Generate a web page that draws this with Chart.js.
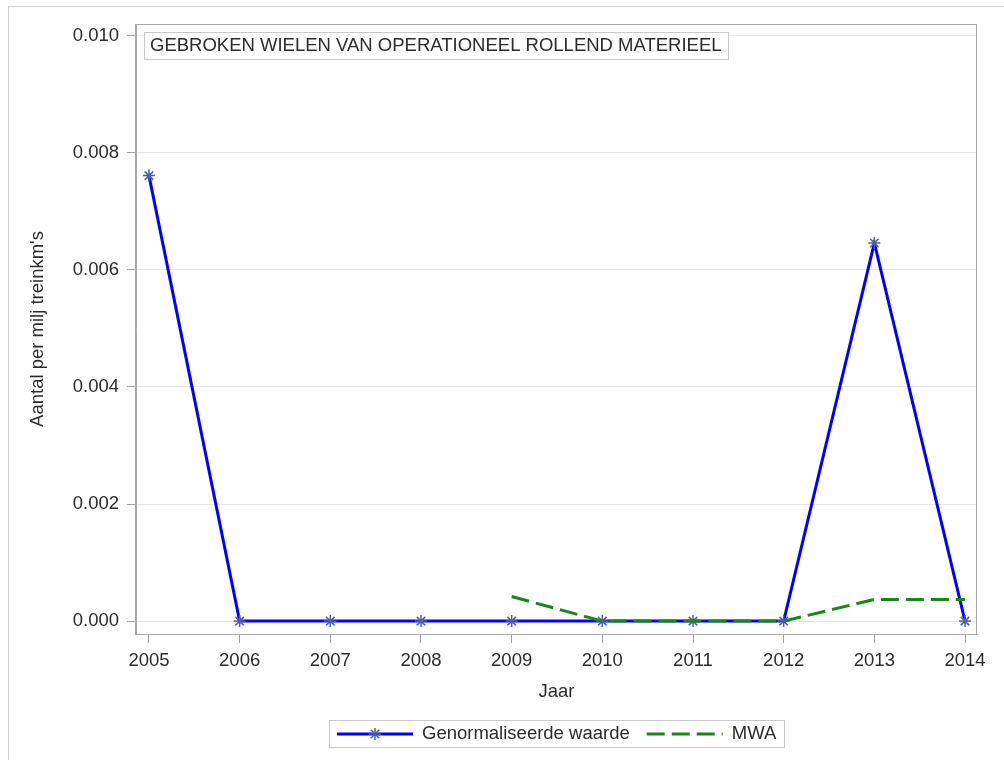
<!DOCTYPE html>
<html>
<head>
<meta charset="utf-8">
<script src="https://cdn.jsdelivr.net/npm/chart.js@4/dist/chart.umd.min.js"></script>
<style>
  html, body { margin: 0; padding: 0; background: #fff; }
  canvas { display: block; }
</style>
</head>
<body>
<canvas id="myChart" width="1004" height="760"></canvas>
<script>
const years = [2005, 2006, 2007, 2008, 2009, 2010, 2011, 2012, 2013, 2014];
const normValues = [0.00761, 0, 0, 0, 0, 0, 0, 0, 0.00646, 0];
const mwaValues = [null, null, null, null, 0.00042, 0, 0, 0, 0.00037, 0.00037];
const yTicks = [0, 0.002, 0.004, 0.006, 0.008, 0.010];
const chartTitle = 'GEBROKEN WIELEN VAN OPERATIONEEL ROLLEND MATERIEEL';

const FAMILY = '"Liberation Sans", Arial, sans-serif';
const SIZE = 18.5;
const FONT = SIZE + 'px ' + FAMILY;
const TEXT = '#2b2b2b';

function points(vals) {
    let out = [];
    for (let i = 0; i < years.length; i++) {
        if (vals[i] !== null) out.push({ x: years[i], y: vals[i] });
    }
    return out;
}

// title box, plot frame, outer border and legend
const frame = {
    id: 'frame',
    beforeDatasetsDraw(chart) {
        const { ctx, chartArea: a } = chart;
        ctx.save();
        ctx.font = FONT;
        const w = Math.round(ctx.measureText(chartTitle).width) + 12;
        ctx.fillStyle = '#fff';
        ctx.fillRect(a.left + 8, a.top + 8, w, 27);
        ctx.strokeStyle = '#c8c8c8';
        ctx.lineWidth = 1;
        ctx.strokeRect(a.left + 8.5, a.top + 8.5, w, 27);
        ctx.fillStyle = TEXT;
        ctx.textBaseline = 'middle';
        ctx.fillText(chartTitle, a.left + 14, a.top + 22);
        ctx.restore();
    },
    afterDraw(chart) {
        const { ctx, chartArea: a } = chart;
        ctx.save();
        ctx.lineWidth = 1;
        ctx.strokeStyle = '#d2d2d2';
        ctx.strokeRect(8.5, 6.5, 1100, 1000);
        ctx.strokeStyle = '#a8a8a8';
        ctx.strokeRect(Math.round(a.left) - 0.5, Math.round(a.top) + 0.5, Math.round(a.right - a.left), Math.round(a.bottom - a.top));

        // legend
        ctx.font = FONT;
        const ds = chart.data.datasets;
        const lineLen = 76;
        let widths = ds.map(d => ctx.measureText(d.label).width);
        let total = 8 + 8;
        for (let i = 0; i < ds.length; i++) {
            total += lineLen + 9 + widths[i];
            if (i > 0) total += 17;
        }
        const cx = (a.left + a.right) / 2;
        const bx = Math.round(cx - total / 2);
        const by = 720, bh = 27;
        ctx.strokeStyle = '#c8c8c8';
        ctx.strokeRect(bx + 0.5, by + 0.5, Math.round(total), bh);
        const my = by + bh / 2 + 0.5;
        let x = bx + 8;
        for (let i = 0; i < ds.length; i++) {
            const d = ds[i];
            ctx.save();
            ctx.strokeStyle = d.borderColor;
            ctx.lineWidth = d.borderWidth;
            ctx.setLineDash(d.borderDash || []);
            ctx.beginPath();
            ctx.moveTo(x, my);
            ctx.lineTo(x + lineLen, my);
            ctx.stroke();
            ctx.restore();
            if (d.pointRadius > 0) {
                ctx.save();
                ctx.strokeStyle = d.pointBorderColor;
                ctx.lineWidth = d.pointBorderWidth;
                Chart.helpers.drawPoint(ctx, { pointStyle: d.pointStyle, radius: d.pointRadius, borderWidth: d.pointBorderWidth, rotation: 0 }, x + lineLen / 2, my);
                ctx.restore();
            }
            x += lineLen + 9;
            ctx.fillStyle = TEXT;
            ctx.textBaseline = 'middle';
            ctx.fillText(d.label, x, my);
            x += widths[i] + 17;
        }
        ctx.restore();
    }
};

const data = {
    datasets: [{
        label: 'Genormaliseerde waarde',
        data: points(normValues),
        borderColor: '#0000ff',
        backgroundColor: '#0000ff',
        borderWidth: 3,
        pointStyle: 'star',
        pointRadius: 6,
        pointBorderWidth: 1.5,
        pointBorderColor: '#4f5ea8',
        pointBackgroundColor: '#4f5ea8',
        order: 1
    }, {
        label: 'MWA',
        data: points(mwaValues),
        borderColor: '#138a13',
        backgroundColor: '#138a13',
        borderWidth: 3,
        borderDash: [18, 7],
        pointRadius: 0,
        order: 0
    }]
};

var myChart = new Chart('myChart', {
    type: 'line',
    data: data,
    plugins: [frame],
    options: {
        responsive: false,
        animation: false,
        layout: { padding: { left: 0, top: 24, right: 27, bottom: 0 } },
        plugins: {
            legend: { display: false },
            tooltip: { enabled: false }
        },
        scales: {
            x: {
                type: 'linear',
                min: 2004.857,
                max: 2014.132,
                afterBuildTicks: s => { s.ticks = years.map(v => ({ value: v })); },
                afterFit: s => { s.height = 126; },
                grid: { drawOnChartArea: false, tickLength: 9, tickColor: '#a0a0a0' },
                border: { color: '#a8a8a8' },
                ticks: {
                    callback: v => String(v),
                    font: { family: FAMILY, size: SIZE },
                    color: TEXT,
                    padding: 7,
                    maxRotation: 0,
                    autoSkip: false
                },
                title: {
                    display: true,
                    text: 'Jaar',
                    font: { family: FAMILY, size: SIZE },
                    color: TEXT,
                    padding: { top: 0, bottom: 57 }
                }
            },
            y: {
                min: -0.00022,
                max: 0.0102,
                afterBuildTicks: s => { s.ticks = yTicks.map(v => ({ value: v })); },
                afterFit: s => { s.width = 136; },
                grid: { color: '#e6e6e6', tickLength: 9, tickColor: '#a0a0a0' },
                border: { color: '#a8a8a8' },
                ticks: {
                    callback: v => v.toFixed(3),
                    font: { family: FAMILY, size: SIZE },
                    color: TEXT,
                    padding: 8
                },
                title: {
                    display: true,
                    text: "Aantal per milj treinkm's",
                    font: { family: FAMILY, size: SIZE },
                    color: TEXT,
                    padding: { top: 27, bottom: 0 }
                }
            }
        }
    }
});
</script>
</body>
</html>
